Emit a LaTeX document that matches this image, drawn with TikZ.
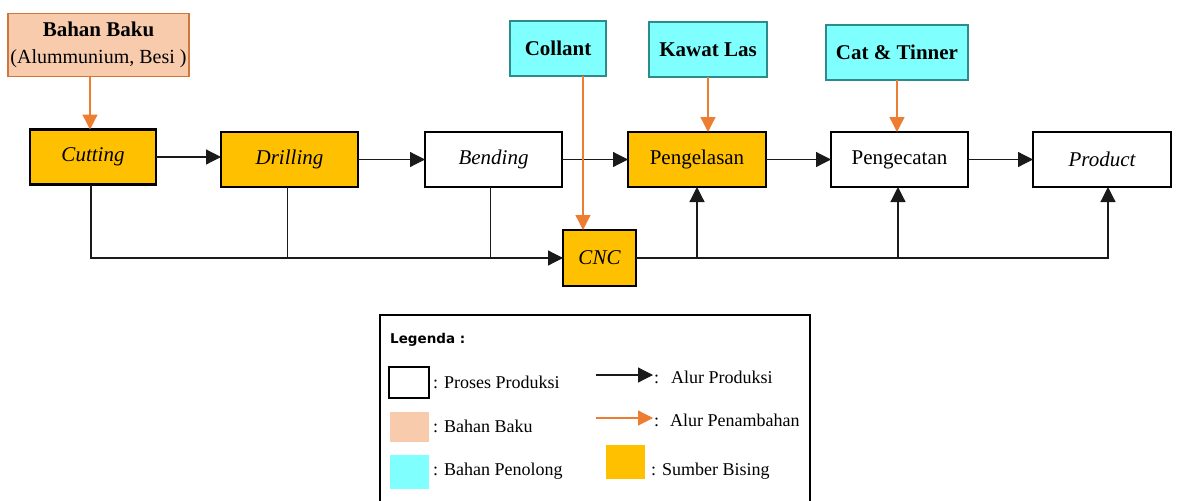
\documentclass[tikz,border=0pt]{standalone}
\usepackage{fontspec}
\setmainfont{Liberation Serif}
\newfontfamily\legfont{DejaVu Sans}
\usetikzlibrary{arrows.meta}
\definecolor{noise}{HTML}{FFC000}
\definecolor{peach}{HTML}{F8CBAD}
\definecolor{peachborder}{HTML}{D0763A}
\definecolor{aqua}{HTML}{80FFFF}
\definecolor{aquaborder}{HTML}{2E8B8B}
\definecolor{addflow}{HTML}{ED7D31}
\definecolor{conn}{HTML}{1A1A1A}
\tikzset{
  box/.style={draw=black, line width=2.8pt, rectangle, inner sep=0pt, outer sep=0pt,
              font=\fontsize{21}{25}\selectfont, align=center},
  noisebox/.style={box, fill=noise},
  procbox/.style={box, fill=white},
  rawbox/.style={draw=peachborder, line width=1.3pt, fill=peach, rectangle, inner sep=0pt, outer sep=0pt,
              align=center, font=\fontsize{20}{27}\selectfont},
  helpbox/.style={draw=aquaborder, line width=1.3pt, fill=aqua, rectangle, inner sep=0pt, outer sep=0pt,
              font=\fontsize{21}{25}\selectfont\bfseries, align=center},
  flow/.style={draw=conn, line width=1.2pt, -{Triangle[length=15pt,width=15pt]}},
  plain/.style={draw=conn, line width=1.2pt},
  addarrow/.style={draw=addflow, line width=1.3pt, -{Triangle[length=15pt,width=15pt]}},
  legtext/.style={anchor=west, inner sep=0pt, font=\fontsize{18}{21}\selectfont},
  swatch/.style={rectangle, inner sep=0pt, outer sep=0pt},
}
\begin{document}
\begin{tikzpicture}[x=1pt, y=-1pt]
\useasboundingbox[fill=white] (0,0) rectangle (1179,501);

% raw material
\node[rawbox, minimum width=181pt, minimum height=63pt] (bb) at (98.5,45)
  {{\fontsize{21}{27}\selectfont\bfseries Bahan Baku}\\(Alummunium, Besi )};

% helper materials
\node[helpbox, minimum width=96pt, minimum height=55pt] (col) at (558,48.5) {Collant};
\node[helpbox, minimum width=118pt, minimum height=55pt] (kaw) at (708,49.5) {Kawat Las};
\node[helpbox, minimum width=142pt, minimum height=55pt] (cat) at (897,52.5) {Cat \& Tinner};

% process boxes
\node[noisebox, minimum width=126pt, minimum height=55pt] (cut) at (93,157) {\itshape Cutting};
\node[noisebox, minimum width=137pt, minimum height=55pt] (dri) at (289.5,159.5) {\itshape Drilling};
\node[procbox, minimum width=137pt, minimum height=55pt] (ben) at (493.5,159.5) {\itshape Bending};
\node[noisebox, minimum width=138pt, minimum height=55pt] (pel) at (697,159.5) {Pengelasan};
\node[procbox, minimum width=137pt, minimum height=55pt] (pec) at (899.5,159.5) {Pengecatan};
\node[procbox, minimum width=138pt, minimum height=55pt] (pro) at (1102,159.5) {\itshape Product};
\node[noisebox, minimum width=73pt, minimum height=56pt] (cnc) at (599.5,258) {\itshape CNC};

% main flow
\draw[flow] (cut.east) -- (cut.east -| dri.west);
\draw[flow] (dri.east) -- (ben.west);
\draw[flow] (ben.east) -- (pel.west);
\draw[flow] (pel.east) -- (pec.west);
\draw[flow] (pec.east) -- (pro.west);

% additions
\draw[addarrow] ([xshift=-3pt]cut.north |- bb.south) -- ([xshift=-3pt]cut.north);
\coordinate (colx) at (583,0);
\draw[addarrow] (col.south -| colx) -- (cnc.north -| colx);
\draw[addarrow] (kaw.south) -- (kaw.south |- pel.north);
\draw[addarrow] (cat.south) -- (cat.south |- pec.north);

% bus to CNC
\draw[flow] ([xshift=-2pt]cut.south) |- (cnc.west);
\draw[plain] ([xshift=-2pt]dri.south) -- ([xshift=-2pt]dri.south |- cnc.west);
\draw[plain] ([xshift=-3pt]ben.south) -- ([xshift=-3pt]ben.south |- cnc.west);

% bus from CNC
\draw[flow] (cnc.east) -| ([xshift=6pt]pro.south);
\draw[flow] (pel.south |- cnc.east) -- (pel.south);
\draw[flow] ([xshift=-1.5pt]pec.south |- cnc.east) -- ([xshift=-1.5pt]pec.south);

% legend
\coordinate (lgbl) at (380,501);
\coordinate (lgtl) at (380,315);
\coordinate (lgtr) at (810,315);
\coordinate (lgbr) at (810,501);
\draw[line width=2.2pt] (lgbl) -- (lgtl) -- (lgtr) -- (lgbr);
\node[anchor=west, inner sep=0pt, font=\legfont\fontsize{13.5}{16}\selectfont\bfseries] (lgtitle) at (390,340) {Legenda :};

\node[swatch, draw=black, line width=2.6pt, fill=white, minimum width=40pt, minimum height=31pt] (lgproc) at (409,382.5) {};
\node[legtext] (lgproct) at (433,382) {: Proses Produksi};
\node[swatch, fill=peach, minimum width=39pt, minimum height=30pt] (lgraw) at (409.5,427) {};
\node[legtext] (lgrawt) at (433,426) {: Bahan Baku};
\node[swatch, fill=aqua, minimum width=39pt, minimum height=34pt] (lghelp) at (409.5,472) {};
\node[legtext] (lghelpt) at (433,471) {: Bahan Penolong};

\coordinate (la1) at (596,375);
\coordinate (la2) at (653,375);
\draw[flow] (la1) -- (la2);
\node[legtext] (lgflowt) at (654,377) {:\hspace{12pt}Alur Produksi};
\coordinate (lb1) at (596,418);
\coordinate (lb2) at (653,418);
\draw[addarrow] (lb1) -- (lb2);
\node[legtext] (lgaddt) at (654,420) {:\hspace{11pt}Alur Penambahan};
\node[swatch, fill=noise, minimum width=39pt, minimum height=34pt] (lgnoise) at (625.5,462) {};
\node[legtext] (lgnoiset) at (651,471) {: Sumber Bising};
\end{tikzpicture}
\end{document}
